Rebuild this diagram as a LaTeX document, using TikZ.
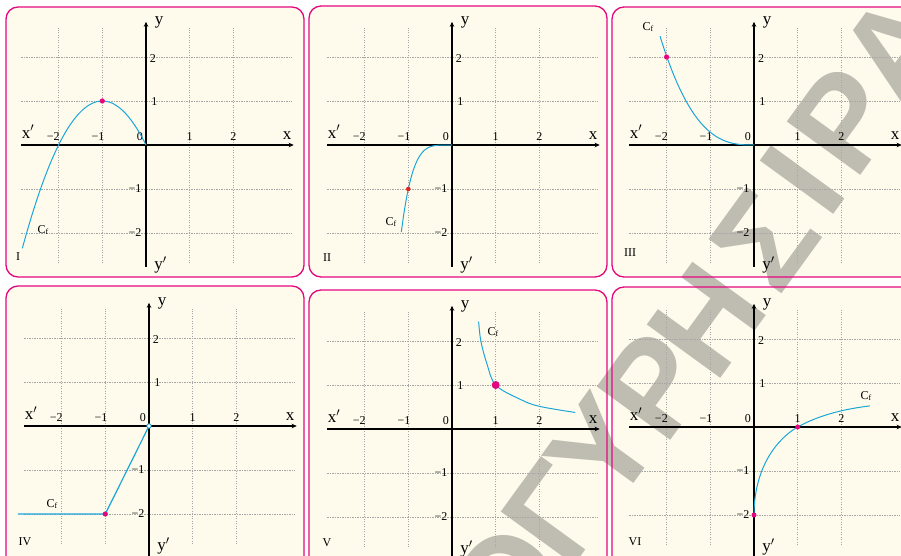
\documentclass[tikz,border=0pt]{standalone}
\usepackage{fontspec}
\setmainfont{Liberation Serif}
\newfontfamily\wmfont{Liberation Sans}
\usetikzlibrary{arrows.meta}
\definecolor{mag}{HTML}{E4087F}
\definecolor{cream}{HTML}{FEFBEC}
\definecolor{curv}{HTML}{1BA6DA}
\definecolor{gridc}{HTML}{A6A6A6}
\definecolor{dotred}{HTML}{E0251E}
\definecolor{wmc}{HTML}{BFBCB2}
\tikzset{
  panelfill/.style={fill=cream, rounded corners=12pt},
  panelline/.style={draw=mag, line width=1.3pt, rounded corners=12pt},
  gridline/.style={gridc, line width=0.6pt, dash pattern=on 1.2pt off 1.3pt},
  axis/.style={line width=1.6pt, -{Stealth[length=5pt,width=4.5pt]}},
  curve/.style={curv, line width=1pt},
  tick/.style={font=\fontsize{12}{12}\selectfont, inner sep=0pt},
  axlab/.style={font=\fontsize{17}{17}\selectfont, inner sep=0pt},
  cflab/.style={font=\fontsize{12}{12}\selectfont, inner sep=0pt},
  roman/.style={font=\fontsize{12}{12}\selectfont, inner sep=0pt},
  dot/.style={fill=mag, draw=none},
  wm/.style={text=wmc, font=\wmfont\bfseries\fontsize{132}{132}\selectfont, rotate=54, inner sep=0pt},
}
\newcommand{\cf}{C\raisebox{-0.5pt}{\fontsize{8}{8}\selectfont f}}
\newcommand{\axesgrid}[2]{%
  \foreach \v in {-2,-1,1,2}{\draw[gridline] (\v,-2.69) -- (\v,2.67);}
  \foreach \v in {-2,-1,1,2}{\draw[gridline] (-2.85,\v) -- (3.33,\v);}
  \coordinate (#1xl) at (-2.85,0);
  \coordinate (#1xr) at (3.38,0);
  \coordinate (#1yb) at (0,#2);
  \coordinate (#1yt) at (0,2.8);
  \draw[axis] (#1xl) -- (#1xr);
  \draw[axis] (#1yb) -- (#1yt);
  \node[axlab] (#1lxp) at (-2.7,0.3) {x$'$};
  \node[axlab] (#1lx) at (3.23,0.22) {x};
  \node[axlab] (#1ly) at (0.3,2.78) {y};
  \node[axlab] (#1lyp) at (0.33,-2.72) {y$'$};
  \node[tick] (#1tma) at (-2.12,0.2) {−2};
  \node[tick] (#1tmb) at (-1.1,0.2) {−1};
  \node[tick] (#1tz) at (-0.14,0.2) {0};
  \node[tick] (#1tpa) at (1,0.2) {1};
  \node[tick] (#1tpb) at (2,0.2) {2};
  \node[tick] (#1ya) at (0.16,1.96) {2};
  \node[tick] (#1yb1) at (0.19,0.98) {1};
  \node[tick] (#1yc) at (-0.25,-1.0) {−1};
  \node[tick] (#1yd) at (-0.25,-1.98) {−2};
}
\begin{document}
\begin{tikzpicture}[x=1pt,y=-1pt]
\useasboundingbox (0,0) rectangle (901,556);
\fill[white] (0,0) rectangle (901,556);
% panel backgrounds
\fill[panelfill] (6,7) rectangle (304,277);
\fill[panelfill] (309,6) rectangle (607,277);
\fill[panelfill] (612,7) rectangle (920,277);
\fill[panelfill] (6,286) rectangle (304,580);
\fill[panelfill] (309,290) rectangle (607,580);
\fill[panelfill] (612,287) rectangle (920,580);
% watermark
\node[wm] (w1) at (506,583) {Ο};
\node[wm] (w2) at (556,514) {Γ};
\node[wm] (w3) at (603,449) {Υ};
\node[wm] (w4) at (655,385) {Ρ};
\node[wm] (w5) at (707,320) {Η};
\node[wm] (w6) at (765,240) {Σ};
\node[wm] (w7) at (803,180) {Ι};
\node[wm] (w8) at (845,120) {Ρ};
\node[wm] (w9) at (897,48) {Α};
% panel borders
\draw[panelline] (6,7) rectangle (304,277);
\draw[panelline] (309,6) rectangle (607,277);
\draw[panelline] (612,7) rectangle (920,277);
\draw[panelline] (6,286) rectangle (304,580);
\draw[panelline] (309,290) rectangle (607,580);
\draw[panelline] (612,287) rectangle (920,580);

% Panel I
\begin{scope}[shift={(146,145)}, x=43.7pt, y=44pt]
  \axesgrid{a}{-2.77}
  \draw[curve] plot[domain=-2.83:0, samples=70] (\x, {-\x*\x-2*\x});
  \fill[dot] (-1,1) circle[radius=2.6pt];
\end{scope}
\node[cflab] (acf) at (43,230) {\cf};
\node[roman] (ar) at (18,257) {I};

% Panel II
\begin{scope}[shift={(452,145)}, x=43.7pt, y=44pt]
  \axesgrid{b}{-2.77}
  \draw[curve] plot[domain=-1.16:-0.01, samples=60] (\x, {-pow(-\x,4.6)}) -- (0,0);
  \fill[dotred] (-1,-1) circle[radius=2.3pt];
\end{scope}
\node[cflab] (bcf) at (391,222) {\cf};
\node[roman] (br) at (327,258) {II};

% Panel III
\begin{scope}[shift={(754,145)}, x=43.7pt, y=44pt]
  \axesgrid{c}{-2.77}
  \draw[curve] plot[domain=-2.15:-0.01, samples=70] (\x, {0.29*pow(-\x,2.8)}) -- (0,0);
  \fill[dot] (-2,2) circle[radius=2.6pt];
\end{scope}
\node[cflab] (ccf) at (648,27) {\cf};
\node[roman] (cr) at (630,253) {III};

% Panel IV
\begin{scope}[shift={(149,426)}, x=43.7pt, y=44pt]
  \axesgrid{d}{-3.1}
  \coordinate (dst) at (-3.0,-2);
  \coordinate (dk) at (-1,-2);
  \coordinate (do) at (0,0);
  \draw[curve, line width=1.2pt] (dst) -- (dk) -- (do);
  \fill[dot] (dk) circle[radius=2.6pt];
  \draw[curv, fill=white, line width=0.9pt] (do) circle[radius=2.2pt];
\end{scope}
\node[cflab] (dcf) at (52,504) {\cf};
\node[roman] (dr) at (25,542) {IV};

% Panel V
\begin{scope}[shift={(452,429)}, x=43.7pt, y=44pt]
  \axesgrid{e}{-3.1}
  \draw[curve] plot[smooth, tension=0.6] coordinates {(0.61,2.44) (0.66,2.0) (0.8,1.48) (1,1) (1.53,0.69) (1.98,0.52) (2.82,0.376)};
  \fill[dot] (1,1) circle[radius=4pt];
\end{scope}
\node[cflab] (ecf) at (493,332) {\cf};
\node[roman] (er) at (327,543) {V};

% Panel VI
\begin{scope}[shift={(754,427)}, x=43.7pt, y=44pt]
  \axesgrid{f}{-3.1}
  \draw[curve] (0,-2) .. controls (0,-0.9) and (0.55,-0.25) .. (1,0) .. controls (1.45,0.25) and (2,0.4) .. (2.65,0.48);
  \fill[dot] (0,-2) circle[radius=2.5pt];
  \fill[dot] (1,0) circle[radius=2.5pt];
\end{scope}
\node[cflab] (fcf) at (866,396) {\cf};
\node[roman] (fr) at (635,542) {VI};
\end{tikzpicture}
\end{document}
